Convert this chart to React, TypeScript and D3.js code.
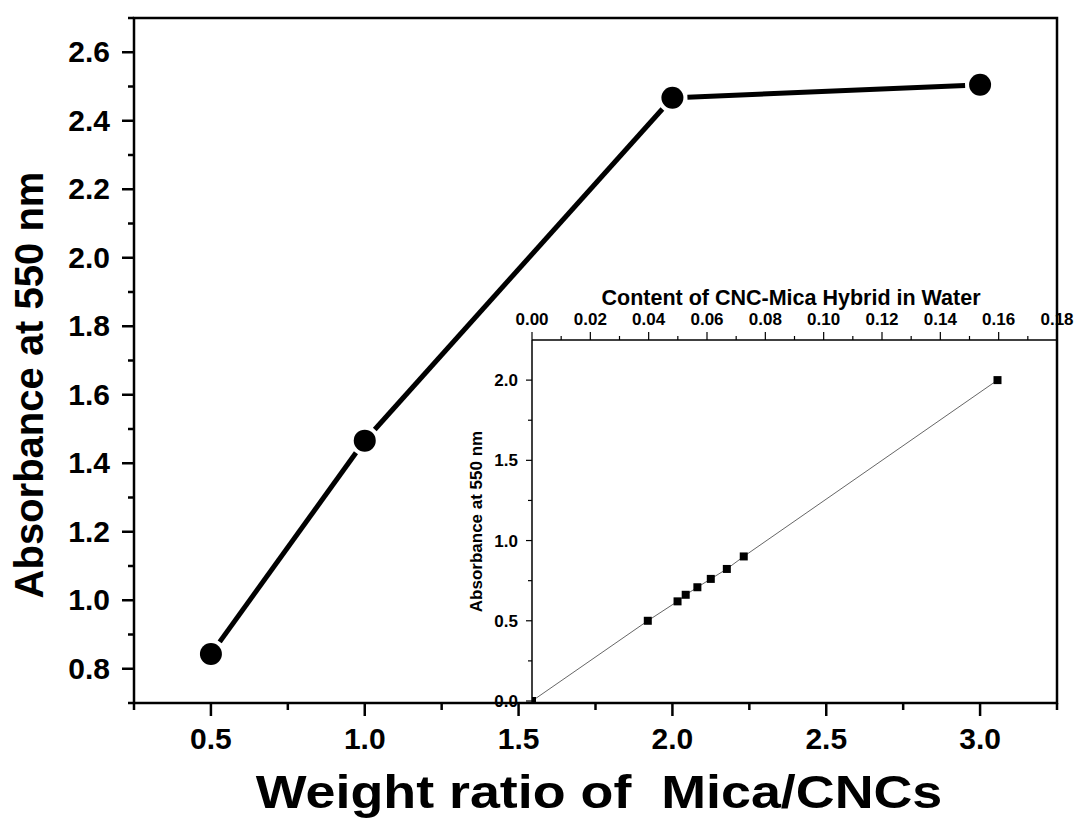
import * as d3 from 'd3';

// main plot: absorbance vs weight ratio
const ratios = [0.5, 1.0, 2.0, 3.0];
const absorbance = [0.843, 1.466, 2.467, 2.505];
const xMajor = [0.5, 1.0, 1.5, 2.0, 2.5, 3.0];
const xMinor = [0.25, 0.75, 1.25, 1.75, 2.25, 2.75, 3.25];
const yMajor = [0.8, 1.0, 1.2, 1.4, 1.6, 1.8, 2.0, 2.2, 2.4, 2.6];
const yMinor = [0.7, 0.9, 1.1, 1.3, 1.5, 1.7, 1.9, 2.1, 2.3, 2.5, 2.7];

// inset: absorbance vs content (calibration)
const content = [0, 0.0397, 0.0499, 0.0527, 0.0567, 0.0613, 0.0668, 0.0726, 0.1596];
const insetAbs = [0, 0.5, 0.621, 0.662, 0.709, 0.761, 0.823, 0.901, 2.0];
const insetXMajor = [0, 0.02, 0.04, 0.06, 0.08, 0.1, 0.12, 0.14, 0.16, 0.18];
const insetXMinor = [0.01, 0.03, 0.05, 0.07, 0.09, 0.11, 0.13, 0.15, 0.17];
const insetYMajor = [0, 0.5, 1.0, 1.5, 2.0];
const insetYMinor = [0.25, 0.75, 1.25, 1.75];

const FONT = '"Liberation Sans", Arial, sans-serif';

export default function App() {
  const W = 1077;
  const H = 821;
  const left = 134, right = 1057, top = 18, bottom = 703;

  const x = d3.scaleLinear().domain([0.25, 3.25]).range([left, right]);
  const y = d3.scaleLinear().domain([0.7, 2.7]).range([bottom, top]);

  const ix = d3.scaleLinear().domain([0, 0.18]).range([532, right]);
  const iy = d3.scaleLinear().domain([0, 2.25]).range([701, 340]);

  const pts = ratios.map((r, i) => [x(r), y(absorbance[i])]);
  // Origin-style line: segments stop short of the markers
  const gap = 15;
  const segs = pts.slice(1).map((p, i) => {
    const a = pts[i];
    const dx = p[0] - a[0], dy = p[1] - a[1];
    const len = Math.hypot(dx, dy);
    const ux = dx / len, uy = dy / len;
    return [a[0] + ux * gap, a[1] + uy * gap, p[0] - ux * gap, p[1] - uy * gap];
  });

  const insetLine = d3.line<number>()
    .x((d) => ix(d))
    .y((_, i) => iy(insetAbs[i]));

  return (
    <svg width={W} height={H} style={{ position: 'absolute', left: 0, top: 0, background: '#fff' }}
      fontFamily={FONT}>
      <defs>
        <clipPath id="insetClip">
          <rect x={532} y={340} width={right - 532} height={703 - 340} />
        </clipPath>
      </defs>

      {/* main data */}
      {segs.map((s, i) => (
        <line key={i} x1={s[0]} y1={s[1]} x2={s[2]} y2={s[3]} stroke="#000" strokeWidth={5} />
      ))}
      {pts.map((p, i) => (
        <circle key={i} cx={p[0]} cy={p[1]} r={11} fill="#000" />
      ))}

      {/* inset */}
      <rect x={532} y={340} width={right - 532} height={703 - 340} fill="#fff" />
      <g clipPath="url(#insetClip)">
        <path d={insetLine(content) || ''} fill="none" stroke="#555" strokeWidth={0.9} />
        {content.map((c, i) => (
          <rect key={i} x={ix(c) - 4} y={iy(insetAbs[i]) - 4} width={8} height={8} fill="#000" />
        ))}
      </g>
      <line x1={532} y1={340} x2={right} y2={340} stroke="#000" strokeWidth={1.5} />
      <line x1={532} y1={340} x2={532} y2={703} stroke="#000" strokeWidth={1.5} />
      {insetXMajor.map((t) => (
        <g key={t}>
          <line x1={ix(t)} x2={ix(t)} y1={340} y2={332} stroke="#000" strokeWidth={1.2} />
          <text x={ix(t)} y={325} textAnchor="middle" fontSize={17} fontWeight="bold">{t.toFixed(2)}</text>
        </g>
      ))}
      {insetXMinor.map((t) => (
        <line key={t} x1={ix(t)} x2={ix(t)} y1={340} y2={336} stroke="#000" strokeWidth={1.2} />
      ))}
      {insetYMajor.map((t) => (
        <g key={t}>
          <line x1={532} x2={526} y1={iy(t)} y2={iy(t)} stroke="#000" strokeWidth={1.2} />
          <text x={518} y={iy(t) + 6} textAnchor="end" fontSize={17} fontWeight="bold">{t.toFixed(1)}</text>
        </g>
      ))}
      {insetYMinor.map((t) => (
        <line key={t} x1={532} x2={528} y1={iy(t)} y2={iy(t)} stroke="#000" strokeWidth={1.2} />
      ))}
      <text x={791} y={305} textAnchor="middle" fontSize={21.5} fontWeight="bold">Content of CNC-Mica Hybrid in Water</text>
      <text transform={`translate(482,${(340 + 703) / 2}) rotate(-90)`} textAnchor="middle" fontSize={17}
        fontWeight="bold">Absorbance at 550 nm</text>

      {/* main frame */}
      <rect x={left} y={top} width={right - left} height={bottom - top} fill="none" stroke="#000" strokeWidth={2.5} />
      {xMajor.map((t) => (
        <g key={t}>
          <line x1={x(t)} x2={x(t)} y1={bottom} y2={bottom + 13} stroke="#000" strokeWidth={2.5} />
          <text x={x(t)} y={749} textAnchor="middle" fontSize={30} fontWeight="bold">{t.toFixed(1)}</text>
        </g>
      ))}
      {xMinor.map((t) => (
        <line key={t} x1={x(t)} x2={x(t)} y1={bottom} y2={bottom + 7} stroke="#000" strokeWidth={2.5} />
      ))}
      {yMajor.map((t) => (
        <g key={t}>
          <line x1={left} x2={left - 12} y1={y(t)} y2={y(t)} stroke="#000" strokeWidth={2.5} />
          <text x={110} y={y(t) + 10} textAnchor="end" fontSize={30} fontWeight="bold">{t.toFixed(1)}</text>
        </g>
      ))}
      {yMinor.map((t) => (
        <line key={t} x1={left} x2={left - 6} y1={y(t)} y2={y(t)} stroke="#000" strokeWidth={2.5} />
      ))}
      <text transform={`translate(43,385) rotate(-90)`} textAnchor="middle" fontSize={40} fontWeight="bold">
        Absorbance at 550 nm
      </text>
      <text transform="translate(599,808) scale(1.17,1)" textAnchor="middle" fontSize={46} fontWeight="bold"
        style={{ whiteSpace: 'pre' }}>
        {'Weight ratio of  Mica/CNCs'}
      </text>
    </svg>
  );
}
